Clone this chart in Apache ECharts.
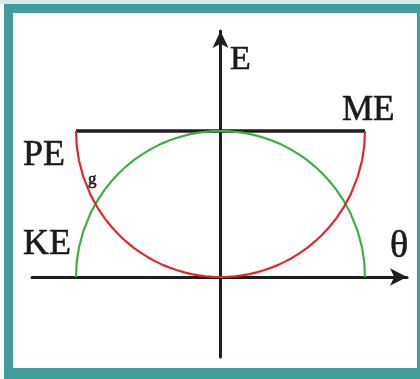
<!DOCTYPE html>
<html><head><meta charset="utf-8">
<script src="https://cdn.jsdelivr.net/npm/echarts@6/dist/echarts.min.js"></script>
<style>html,body{margin:0;padding:0;background:#fff}#c{width:420px;height:379px}</style>
</head><body><div id="c"></div>
<script>
// angle θ (as a fraction of the amplitude)
const theta = [-1, -0.995, -0.98, -0.95, -0.9, -0.85, -0.8, -0.75, -0.7, -0.65, -0.6, -0.55, -0.5, -0.45, -0.4, -0.35, -0.3, -0.25, -0.2, -0.15, -0.1, -0.05, 0,
               0.05, 0.1, 0.15, 0.2, 0.25, 0.3, 0.35, 0.4, 0.45, 0.5, 0.55, 0.6, 0.65, 0.7, 0.75, 0.8, 0.85, 0.9, 0.95, 0.98, 0.995, 1];
// kinetic energy (green), fraction of ME
const KE = [0, 0.1, 0.2, 0.312, 0.436, 0.527, 0.6, 0.661, 0.714, 0.76, 0.8, 0.835, 0.866, 0.893, 0.917, 0.937, 0.954, 0.968, 0.98, 0.989, 0.995, 0.999, 1,
            0.999, 0.995, 0.989, 0.98, 0.968, 0.954, 0.937, 0.917, 0.893, 0.866, 0.835, 0.8, 0.76, 0.714, 0.661, 0.6, 0.527, 0.436, 0.312, 0.2, 0.1, 0];
// gravitational potential energy (red)
const PE = [1, 0.9, 0.8, 0.688, 0.564, 0.473, 0.4, 0.339, 0.286, 0.24, 0.2, 0.165, 0.134, 0.107, 0.083, 0.063, 0.046, 0.032, 0.02, 0.011, 0.005, 0.001, 0,
            0.001, 0.005, 0.011, 0.02, 0.032, 0.046, 0.063, 0.083, 0.107, 0.134, 0.165, 0.2, 0.24, 0.286, 0.339, 0.4, 0.473, 0.564, 0.688, 0.8, 0.9, 1];
// mechanical energy (black, constant)
const meTheta = [-1, 1];
const ME = [1, 1];

const chart = echarts.init(document.getElementById('c'), null, {renderer: 'canvas'});
const pair = (xs, ys) => xs.map((x, i) => [x, ys[i]]);
const serif = '"Liberation Serif", "DejaVu Serif", serif';
const teal = '#3f9e9c';
const txt = (text, x, y, size) => ({type: 'text', z: 10, silent: true,
  style: {text: text, x: x, y: y, font: size + 'px ' + serif, fill: '#1a1a1a', stroke: '#1a1a1a', lineWidth: 0.6, verticalAlign: 'middle'}});
chart.setOption({
  animation: false,
  backgroundColor: '#fff',
  grid: {left: 32, right: 13, top: 31, bottom: 22},
  xAxis: {
    type: 'value', min: -1.3045, max: 1.2907,
    axisLine: {onZero: true, lineStyle: {color: '#1e1e1e', width: 3}, symbol: ['none', 'arrow'], symbolSize: [13, 17]},
    axisTick: {show: false}, axisLabel: {show: false}, splitLine: {show: false}
  },
  yAxis: {
    type: 'value', min: -0.548, max: 1.6849,
    axisLine: {onZero: true, lineStyle: {color: '#1e1e1e', width: 3}, symbol: ['none', 'arrow'], symbolSize: [12, 17]},
    axisTick: {show: false}, axisLabel: {show: false}, splitLine: {show: false}
  },
  series: [
    {type: 'line', data: pair(meTheta, ME), symbol: 'none', z: 2,
     lineStyle: {color: '#1e1e1e', width: 3.5}},
    {type: 'line', data: pair(theta, KE), symbol: 'none', z: 3,
     lineStyle: {color: '#3cb043', width: 2.2, join: 'round'}},
    {type: 'line', data: pair(theta, PE), symbol: 'none', z: 4,
     lineStyle: {color: '#e2262c', width: 2.2, join: 'round'}}
  ],
  graphic: [
    {type: 'rect', z: -20, silent: true, shape: {x: 0, y: 0, width: 420, height: 4}, style: {fill: '#d6ece9'}},
    {type: 'rect', z: -19, silent: true, shape: {x: 4, y: 4, width: 416, height: 375}, style: {fill: teal}},
    {type: 'rect', z: -18, silent: true, shape: {x: 13, y: 13, width: 404, height: 355}, style: {fill: '#fff'}},
    txt('E', 230, 60, 34),
    txt('ME', 342, 110.5, 35),
    txt('θ', 390, 247, 38),
    txt('PE', 23, 156, 36),
    txt('g', 88, 180, 17),
    txt('KE', 23, 245, 36)
  ]
});
</script></body></html>
